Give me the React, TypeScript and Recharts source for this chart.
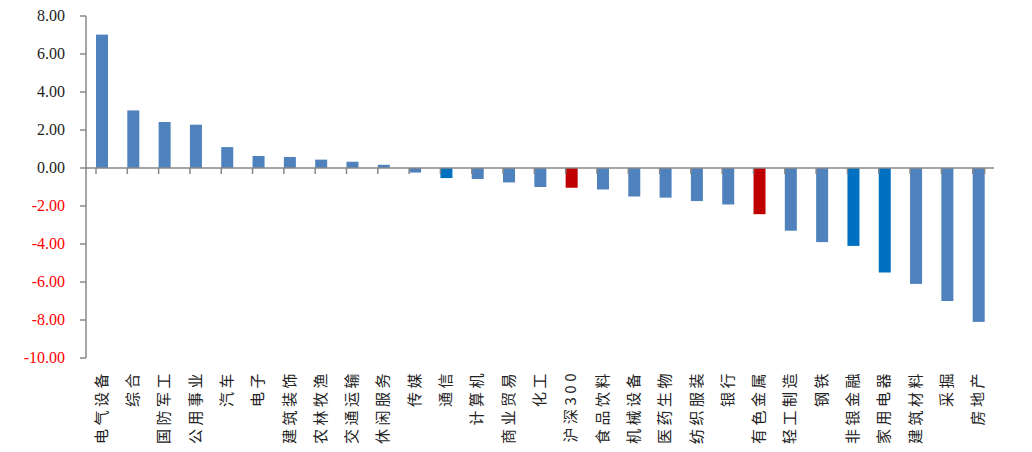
import { BarChart, Bar, XAxis, YAxis, Cell, ReferenceLine } from 'recharts';

const industries = [
  '电气设备', '综合', '国防军工', '公用事业', '汽车', '电子', '建筑装饰', '农林牧渔',
  '交通运输', '休闲服务', '传媒', '通信', '计算机', '商业贸易', '化工', '沪深300',
  '食品饮料', '机械设备', '医药生物', '纺织服装', '银行', '有色金属', '轻工制造', '钢铁',
  '非银金融', '家用电器', '建筑材料', '采掘', '房地产',
];

const changes = [
  7.02, 3.03, 2.42, 2.28, 1.1, 0.63, 0.58, 0.44,
  0.33, 0.17, -0.24, -0.53, -0.58, -0.76, -1.0, -1.04,
  -1.13, -1.5, -1.56, -1.74, -1.92, -2.43, -3.3, -3.9,
  -4.1, -5.5, -6.1, -7.0, -8.1,
];

const yTicks = [-10, -8, -6, -4, -2, 0, 2, 4, 6, 8];

// index highlight: benchmark / bright-blue sectors
const benchmark = ['沪深300', '有色金属'];
const highlighted = ['通信', '非银金融', '家用电器'];

const BASE = '#4F81BD';
const BRIGHT = '#0070C0';
const RED = '#C00000';
const AXIS = '#888888';

const data = industries.map((name, i) => ({ name, value: changes[i] }));

const colorFor = (name: string) =>
  benchmark.includes(name) ? RED : highlighted.includes(name) ? BRIGHT : BASE;

// bar + the little category-boundary tick hanging under the zero line
const BarWithTick = (props: any) => {
  const { x, y, width, height, fill, index, background, payload } = props;
  const top = Math.min(y, y + height);
  const bottom = Math.max(y, y + height);
  const zero = payload.value >= 0 ? bottom : top;
  const bandX = background ? background.x : x - (31.3 - width) / 2;
  const bandW = background ? background.width : 31.3;
  return (
    <g>
      <rect x={x} y={top} width={width} height={bottom - top} fill={fill} />
      <line x1={bandX} x2={bandX} y1={zero} y2={zero + 6} stroke={AXIS} strokeWidth={1.5} />
      {index === industries.length - 1 && (
        <line x1={bandX + bandW} x2={bandX + bandW} y1={zero} y2={zero + 6} stroke={AXIS} strokeWidth={1.5} />
      )}
    </g>
  );
};

const YTick = ({ x, y, payload }: any) => (
  <text
    x={x}
    y={y}
    dy={5}
    textAnchor="end"
    style={{ fontFamily: '"Liberation Serif", serif', fontSize: 16 }}
    fill={payload.value < 0 ? '#FF0000' : '#222222'}
  >
    {payload.value.toFixed(2)}
  </text>
);

const XTick = ({ x, y, payload }: any) => (
  <text
    x={x}
    y={y}
    dy={5}
    transform={`rotate(-90, ${x}, ${y})`}
    textAnchor="end"
    style={{ fontFamily: '"Noto Sans CJK SC", sans-serif', fontSize: 15, letterSpacing: 3.5 }}
    fill="#222222"
  >
    {payload.value}
  </text>
);

export default function App() {
  return (
    <div style={{ position: 'absolute', left: 0, top: 0, background: '#fff' }}>
      <BarChart
        width={1032}
        height={452}
        data={data}
        margin={{ top: 16, right: 38, bottom: 0, left: 0 }}
        barSize={12}
      >
        <XAxis
          dataKey="name"
          interval={0}
          axisLine={false}
          tickLine={false}
          tick={<XTick />}
          tickMargin={6}
          height={94}
        />
        <YAxis
          domain={[-10, 8]}
          ticks={yTicks}
          interval={0}
          width={86}
          axisLine={{ stroke: AXIS, strokeWidth: 1.5 }}
          tickLine={{ stroke: AXIS, strokeWidth: 1.5 }}
          tickSize={6}
          tickMargin={15}
          tick={<YTick />}
        />
        <ReferenceLine y={0} stroke={AXIS} strokeWidth={1.5} />
        <Bar dataKey="value" isAnimationActive={false} shape={<BarWithTick />}>
          {data.map((d) => (
            <Cell key={d.name} fill={colorFor(d.name)} />
          ))}
        </Bar>
      </BarChart>
    </div>
  );
}
